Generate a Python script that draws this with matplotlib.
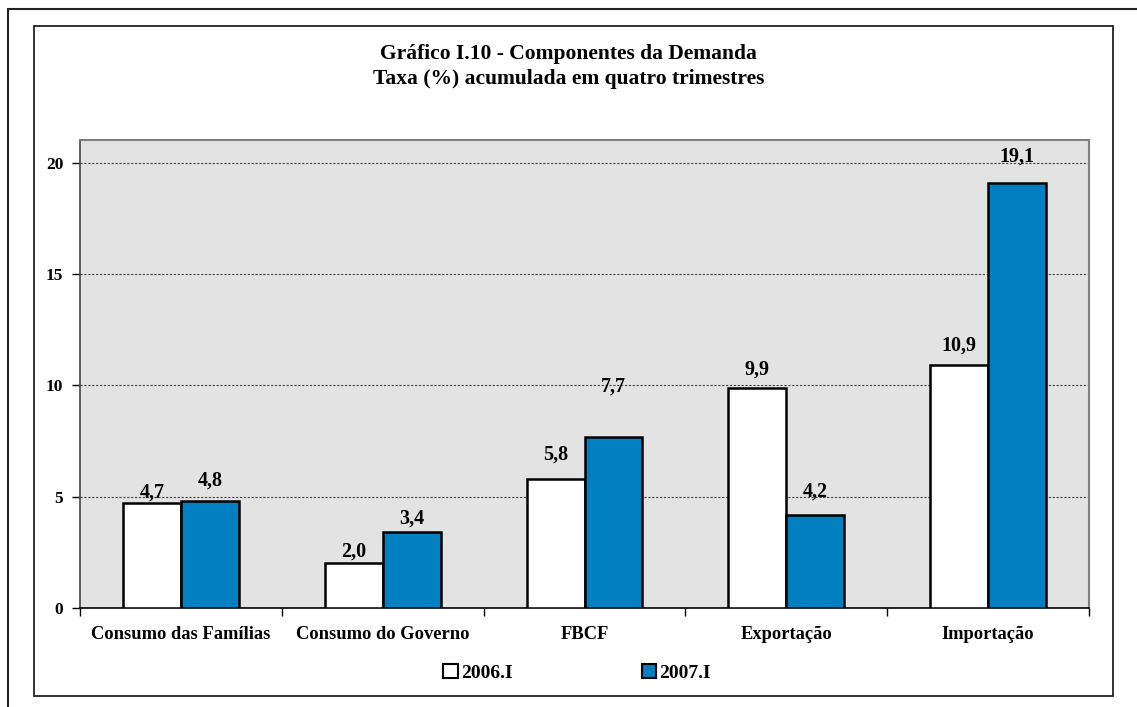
import matplotlib
matplotlib.use('Agg')
import matplotlib.pyplot as plt
from matplotlib.patches import Rectangle
import numpy as np

plt.rcParams['font.family'] = ['Liberation Serif', 'DejaVu Serif']
plt.rcParams['font.weight'] = 'bold'

# Data
categories = ["Consumo das Famílias", "Consumo do Governo", "FBCF",
              "Exportação", "Importação"]
serie_2006 = [4.7, 2.0, 5.8, 9.9, 10.9]
serie_2007 = [4.8, 3.4, 7.7, 4.2, 19.1]
series_labels = ["2006.I", "2007.I"]

# label offsets above bar top (pixels), as placed in the original
off_2006 = [11, 12, 24, 18, 20]
off_2007 = [21, 14, 50, 23, 26]

fig = plt.figure(figsize=(11.37, 7.07), dpi=100)
W, H = 1137, 707

# frames
fig.patches.append(Rectangle((8 / W, -0.1), 1.2, 1 - 9 / H + 0.1,
                             transform=fig.transFigure, fill=False,
                             edgecolor='#222222', linewidth=1.5))
fig.patches.append(Rectangle((34 / W, 1 - 696 / H), (1113 - 34) / W, (696 - 26) / H,
                             transform=fig.transFigure, fill=False,
                             edgecolor='#222222', linewidth=1.3))

ax = fig.add_axes([80 / W, 1 - 608 / H, (1089 - 80) / W, (608 - 140) / H])
ax.set_facecolor('#E3E3E3')

x = np.arange(len(categories))
bw = 0.287
b1 = ax.bar(x - bw / 2, serie_2006, width=bw, color='white', edgecolor='black',
            linewidth=1.8, label=series_labels[0], zorder=3)
b2 = ax.bar(x + bw / 2, serie_2007, width=bw, color='#0080C0', edgecolor='black',
            linewidth=1.8, label=series_labels[1], zorder=3)

for bars, vals, offs in [(b1, serie_2006, off_2006), (b2, serie_2007, off_2007)]:
    for b, v, o in zip(bars, vals, offs):
        ax.annotate(f"{v:.1f}".replace('.', ','),
                    (b.get_x() + b.get_width() / 2, v),
                    xytext=(0, o * 0.72), textcoords='offset points',
                    ha='center', va='center', fontsize=14.5, fontweight='bold',
                    zorder=4)

ax.set_xlim(-0.5, len(categories) - 0.5)
ax.set_ylim(0, 21.03)
ax.set_yticks([0, 5, 10, 15, 20])
ax.yaxis.grid(True, linestyle=(0, (2, 1.5)), color='#444444', linewidth=0.8, zorder=1)
ax.set_axisbelow(True)

ax.set_xticks(x)
ax.set_xticklabels(categories)
ax.set_xticks(np.arange(-0.5, len(categories)), minor=True)
ax.tick_params(axis='x', which='major', length=0, pad=13, labelsize=13.3)
ax.tick_params(axis='x', which='minor', length=6, width=1, direction='out')
ax.tick_params(axis='y', length=6, width=1, direction='out', labelsize=12.5, pad=6)
for lab in ax.get_xticklabels() + ax.get_yticklabels():
    lab.set_fontweight('bold')

for s in ['top', 'right']:
    ax.spines[s].set_color('#808080')
    ax.spines[s].set_linewidth(1.5)
ax.spines['left'].set_color('#444444')
ax.spines['left'].set_linewidth(1.2)
ax.spines['bottom'].set_color('black')
ax.spines['bottom'].set_linewidth(1.2)

fig.text(0.5, 1 - 54 / H, "Gráfico I.10 - Componentes da Demanda",
         ha='center', va='center', fontsize=15.5, fontweight='bold')
fig.text(0.5, 1 - 79 / H, "Taxa (%) acumulada em quatro trimestres",
         ha='center', va='center', fontsize=15.5, fontweight='bold')

leg = fig.legend(handles=[b1, b2], labels=series_labels, loc='center',
                 bbox_to_anchor=(577 / W, 1 - 673 / H), ncol=2, frameon=False,
                 fontsize=14, handlelength=0.75, handleheight=0.75,
                 handletextpad=0.15, columnspacing=6.65)
for t in leg.get_texts():
    t.set_fontweight('bold')
for h in leg.legend_handles:
    h.set_linewidth(1.5)

fig.savefig('out.png', dpi=100)
